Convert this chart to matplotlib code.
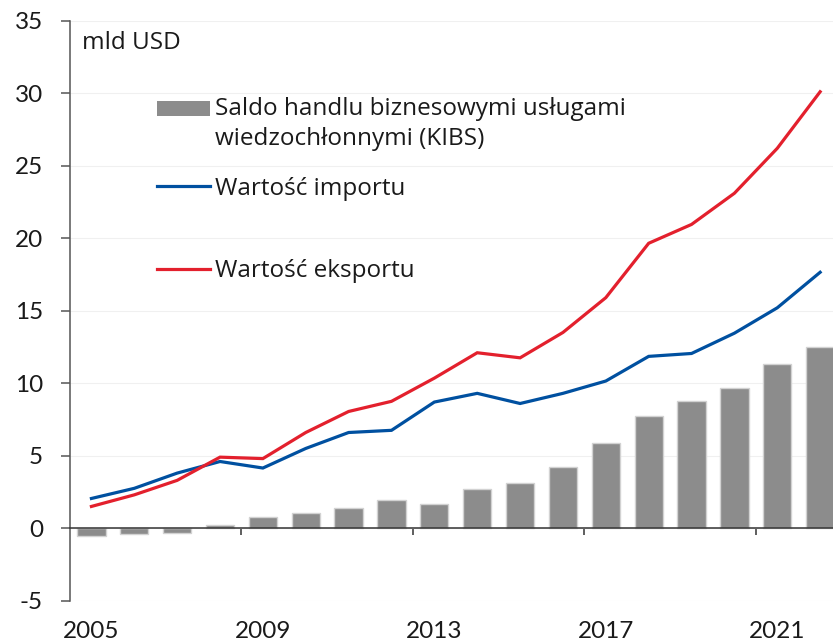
import matplotlib
matplotlib.use("Agg")
import matplotlib.pyplot as plt
from matplotlib.patches import Rectangle
from matplotlib.lines import Line2D
from matplotlib.legend_handler import HandlerPatch
from matplotlib.ticker import MultipleLocator

# Data (mld USD)
years = list(range(2005, 2023))
saldo = [-0.55, -0.4, -0.35, 0.25, 0.8, 1.05, 1.4, 1.95, 1.65, 2.7,
         3.1, 4.2, 5.85, 7.75, 8.8, 9.7, 11.3, 12.5]
imports = [2.05, 2.75, 3.8, 4.6, 4.15, 5.5, 6.6, 6.75, 8.7, 9.3,
           8.6, 9.3, 10.15, 11.85, 12.05, 13.45, 15.2, 17.65]
exports = [1.5, 2.3, 3.3, 4.9, 4.8, 6.6, 8.05, 8.75, 10.35, 12.1,
           11.75, 13.5, 15.9, 19.65, 20.95, 23.1, 26.2, 30.1]
tick_years = [2005, 2009, 2013, 2017, 2021]
boundary_ticks = [2008.5, 2012.5, 2016.5, 2020.5]

label_saldo = "Saldo handlu biznesowymi usługami\nwiedzochłonnymi (KIBS)"
label_imp = "Wartość importu"
label_exp = "Wartość eksportu"

BAR_COLOR = "#8c8c8c"
BLUE = "#0050a0"
RED = "#e3202d"
TEXT = "#1a1a1a"
LEGEND_FONT = ["Open Sans", "DejaVu Sans"]

plt.rcParams["font.family"] = ["Lato", "DejaVu Sans"]
plt.rcParams["axes.unicode_minus"] = False
plt.rcParams["text.color"] = TEXT

fig = plt.figure(figsize=(8.33, 6.44), dpi=100)
ax = fig.add_axes([70 / 833, 43.3 / 644, 763 / 833, 580 / 644])

ax.bar(years, saldo, width=0.66, color=BAR_COLOR, edgecolor="#d2d2d2",
       linewidth=1, zorder=2)
ax.plot(years, imports, color=BLUE, lw=2.3, zorder=3, solid_joinstyle="miter")
ax.plot(years, exports, color=RED, lw=2.3, zorder=3, solid_joinstyle="miter")

ax.set_xlim(2004.5, 2022.3)
ax.set_ylim(-5, 35)
ax.yaxis.set_major_locator(MultipleLocator(5))
ax.grid(axis="y", color="#f0f0f0", lw=0.8)
ax.set_axisbelow(True)

for s in ["top", "right"]:
    ax.spines[s].set_visible(False)
ax.spines["left"].set_color("#555555")
ax.spines["left"].set_linewidth(1.1)
ax.spines["bottom"].set_position(("data", 0))
ax.spines["bottom"].set_color("#333333")
ax.spines["bottom"].set_linewidth(1.1)

ax.set_xticks(tick_years)
ax.set_xticks(boundary_ticks, minor=True)
ax.tick_params(axis="x", which="major", length=0, pad=67, labelsize=17.5,
               labelcolor=TEXT)
ax.tick_params(axis="x", which="minor", length=5, width=1.1, color="#333333")
ax.tick_params(axis="y", length=6.5, width=1.1, pad=13, labelsize=17.5,
               color="#555555", labelcolor=TEXT)

ax.text(0.016, 0.961, "mld USD", transform=ax.transAxes, fontsize=17.5,
        va="center", ha="left", family=LEGEND_FONT)


def shifted_patch(legend, orig_handle, xdescent, ydescent, width, height,
                  fontsize):
    # keep the swatch next to the first line of the two-line label
    return Rectangle((-xdescent, -ydescent + 11.5), width, height)


leg_kw = dict(frameon=False, loc="center left", borderpad=0, borderaxespad=0,
              handlelength=2.2, handletextpad=0.2,
              prop={"family": LEGEND_FONT, "size": 17.5})

h_saldo = Rectangle((0, 0), 1, 1, facecolor=BAR_COLOR, edgecolor="none")
leg1 = ax.legend([h_saldo], [label_saldo], bbox_to_anchor=(0.114, 0.822),
                 handleheight=0.55,
                 handler_map={Rectangle: HandlerPatch(patch_func=shifted_patch)},
                 **leg_kw)
leg1.get_texts()[0].set_linespacing(1.3)
ax.add_artist(leg1)
leg2 = ax.legend([Line2D([], [], color=BLUE, lw=2.3)], [label_imp],
                 bbox_to_anchor=(0.114, 0.710), **leg_kw)
ax.add_artist(leg2)
ax.legend([Line2D([], [], color=RED, lw=2.3)], [label_exp],
          bbox_to_anchor=(0.114, 0.568), **leg_kw)

fig.savefig("out.png", dpi=100)
